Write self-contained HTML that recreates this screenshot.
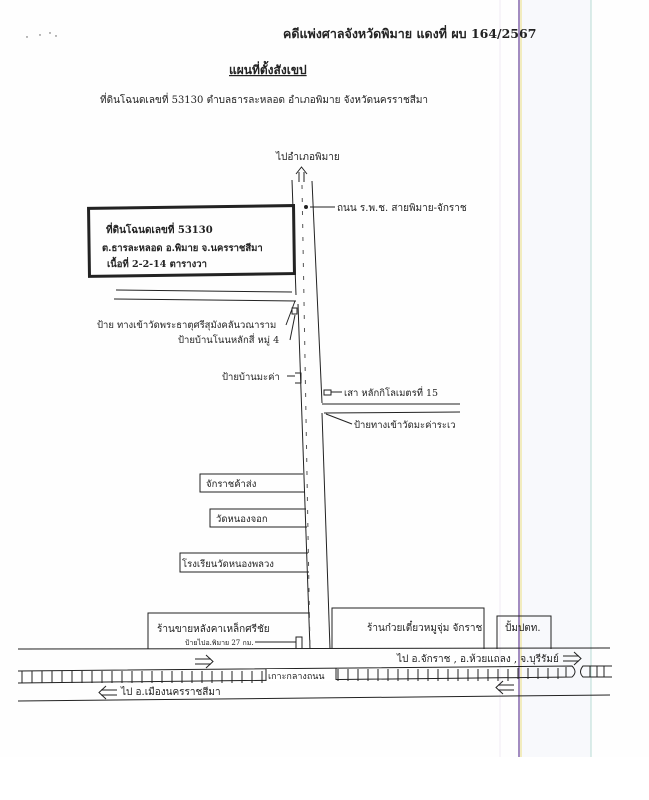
<!DOCTYPE html>
<html><head><meta charset="utf-8"><style>
html,body{margin:0;padding:0;background:#fff}
svg{display:block}
text{font-family:"DejaVu Serif","Liberation Serif",serif;fill:#222}
</style></head><body>
<svg width="649" height="800" viewBox="0 0 649 800" xmlns="http://www.w3.org/2000/svg">
<rect x="0" y="0" width="649" height="757" fill="#fefefe"/>
<rect x="520" y="0" width="71" height="757" fill="#f8f9fc"/>
<line x1="591" y1="0" x2="591" y2="757" stroke="#b8dcd4" stroke-width="1"/>
<line x1="500" y1="0" x2="500" y2="757" stroke="#f0eaf4" stroke-width="1"/>
<line x1="519" y1="0" x2="519" y2="757" stroke="#8a70b0" stroke-width="1.6"/>
<line x1="521" y1="0" x2="521" y2="757" stroke="#ece080" stroke-width="1"/>
<g fill="#555"><circle cx="27" cy="37" r="0.7"/><circle cx="40" cy="35" r="0.7"/><circle cx="50" cy="33" r="0.7"/><circle cx="56" cy="36" r="0.7"/></g>

<text x="283" y="38" font-size="12.5" font-weight="bold">คดีแพ่งศาลจังหวัดพิมาย แดงที่ ผบ 164/2567</text>
<text x="229" y="74" font-size="12" font-weight="bold" text-decoration="underline">แผนที่ตั้งสังเขป</text>
<text x="100" y="103" font-size="10">ที่ดินโฉนดเลขที่ 53130  ตำบลธารละหลอด  อำเภอพิมาย  จังหวัดนครราชสีมา</text>

<text x="276" y="160" font-size="10">ไปอำเภอพิมาย</text>

<g stroke="#222" stroke-width="1" fill="none">
<!-- up arrow -->
<path d="M299 182 V172 M304 182 V172 M296 174 L301.5 167 L307 174"/>
<line x1="292" y1="180" x2="296" y2="295"/>
<line x1="298" y1="304" x2="310" y2="649"/>
<line x1="312" y1="181" x2="322" y2="403"/>
<line x1="322" y1="413" x2="330" y2="649"/>
<line x1="302" y1="185" x2="310" y2="649" stroke-dasharray="4,9" stroke="#555"/>
<rect x="89" y="207" width="205" height="68" stroke-width="3" transform="rotate(-0.8 190 241)"/>
<line x1="116" y1="290" x2="292" y2="292"/>
<line x1="114" y1="299" x2="296" y2="301"/>
<line x1="322" y1="404" x2="460" y2="404"/>
<line x1="324" y1="413" x2="460" y2="412"/>
<line x1="310" y1="207" x2="335" y2="207"/>
<circle cx="306" cy="207" r="1.5" fill="#222"/>
<rect x="292" y="308" width="5" height="6"/>
<line x1="286" y1="325" x2="295" y2="301"/>
<line x1="290" y1="340" x2="295" y2="315"/>
<line x1="287" y1="376" x2="295" y2="376"/>
<path d="M295 373 H301 V383 H295"/>
<rect x="324" y="390" width="7" height="5"/>
<line x1="331" y1="392" x2="342" y2="392"/>
<line x1="352" y1="424" x2="326" y2="414"/>
<path d="M303 474 H200 V492 H305"/>
<path d="M306 509 H210 V527 H307"/>
<path d="M308 553 H180 V572 H309"/>
<path d="M148 649 V613 H310"/>
<path d="M332 649 V608 H484 V649"/>
<path d="M497 649 V616 H551 V649"/>
<path d="M296 649 V637 H302 V649"/>
<line x1="18" y1="649" x2="610" y2="648"/>
<line x1="18" y1="701" x2="610" y2="695"/>
<path d="M18 671 L572 666 Q578 672 572 677 L18 683"/>
<path d="M612 666 L583 666 Q578 672 583 677 L612 677"/>
<!-- right arrows -->
<path d="M195 659 H211 M195 664 H211 M206 655 L213 661.5 L206 668"/>
<path d="M563 656 H579 M563 661 H579 M574 652 L581 658.5 L574 665"/>
<!-- left arrows -->
<path d="M117 690 H101 M117 695 H101 M106 686 L99 692.5 L106 699"/>
<path d="M514 685 H498 M514 690 H498 M503 681 L496 687.5 L503 694"/>
</g>
<g stroke="#222" stroke-width="1">
<path d="M22 671v12M32 671v12M42 671v12M52 671v12M62 671v12M72 671v12M82 671v12M92 671v12M102 671v12M112 671v12M122 671v12M132 671v12M142 671v12M152 671v12M162 671v12M172 671v12M182 671v12M192 671v12M202 671v12M212 671v12M222 671v12M232 671v12M242 671v12M252 671v12M262 671v12"/>
<path d="M338 669v12M348 669v12M358 669v12M368 669v12M378 669v12M388 669v12M398 669v12M408 669v12M418 669v12M428 669v12M438 669v12M448 669v12M458 669v12M468 669v12M478 669v12M488 669v12M498 669v12M508 669v12M518 668v11M528 668v11M538 668v11M548 668v11M558 668v11M566 667v10"/>
<path d="M590 666v11M597 666v11M604 666v11"/>
</g>
<rect x="266" y="669" width="70" height="12" fill="#fff"/>
<line x1="266" y1="669" x2="266" y2="681" stroke="#222"/>
<line x1="336" y1="668" x2="336" y2="680" stroke="#222"/>

<g font-size="10">
<text x="337" y="211">ถนน ร.พ.ช. สายพิมาย-จักราช</text>
<text x="106" y="233" font-weight="bold">ที่ดินโฉนดเลขที่ 53130</text>
<text x="102" y="251" font-weight="bold" font-size="9.5">ต.ธารละหลอด อ.พิมาย จ.นครราชสีมา</text>
<text x="107" y="267" font-weight="bold" font-size="9.5">เนื้อที่ 2-2-14 ตารางวา</text>
<text x="97" y="328" font-size="9.5">ป้าย ทางเข้าวัดพระธาตุศรีสุมังคลันวณาราม</text>
<text x="178" y="343" font-size="9.5">ป้ายบ้านโนนหลักสี่ หมู่ 4</text>
<text x="222" y="380" font-size="9.5">ป้ายบ้านมะค่า</text>
<text x="344" y="396" font-size="9.5">เสา หลักกิโลเมตรที่ 15</text>
<text x="354" y="428" font-size="9.5">ป้ายทางเข้าวัดมะค่าระเว</text>
<text x="206" y="487" font-size="9.5">จักราชค้าส่ง</text>
<text x="216" y="522" font-size="9.5">วัดหนองจอก</text>
<text x="182" y="567" font-size="9.5">โรงเรียนวัดหนองพลวง</text>
<text x="157" y="632">ร้านขายหลังคาเหล็กศรีชัย</text>
<text x="185" y="645" font-size="7">ป้ายไปอ.พิมาย 27 กม.</text>
<line x1="255" y1="642" x2="296" y2="642" stroke="#222"/>
<text x="367" y="631">ร้านก๋วยเตี๋ยวหมูจุ่ม จักราช</text>
<text x="505" y="631">ปั้มปตท.</text>
<text x="397" y="662">ไป อ.จักราช , อ.ห้วยแถลง , จ.บุรีรัมย์</text>
<text x="268" y="679" font-size="9">เกาะกลางถนน</text>
<text x="121" y="695">ไป อ.เมืองนครราชสีมา</text>
</g>
</svg>
</body></html>
